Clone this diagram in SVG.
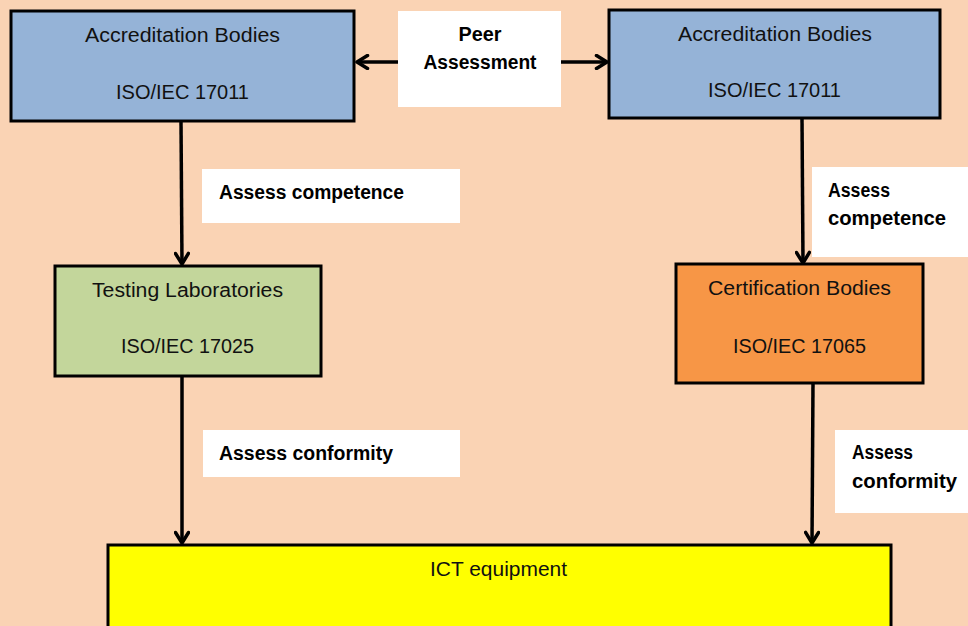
<svg xmlns="http://www.w3.org/2000/svg" width="968" height="626" viewBox="0 0 968 626">
<defs>
<style>
.box{stroke:#000;stroke-width:3}
.lbl{fill:#fff}
.t{font-family:"Liberation Sans",Arial,sans-serif;font-size:20px;fill:#111}
.b{font-family:"Liberation Sans",Arial,sans-serif;font-size:20px;font-weight:bold;fill:#000}
.c{stroke:#000;stroke-width:3.5;fill:none}
</style>
<marker id="ah" viewBox="0 0 16 16" refX="13.5" refY="8" markerWidth="16" markerHeight="16" markerUnits="userSpaceOnUse" orient="auto">
<path d="M3,1.5 L13.5,8 L3,14.5" fill="none" stroke="#000" stroke-width="3.5" stroke-linecap="round" stroke-linejoin="round"/>
</marker>
</defs>
<rect width="968" height="626" fill="#FAD3B4"/>

<g id="labels">
<g id="lbl-peer"><rect class="lbl" x="398" y="11" width="163" height="96"/>
<text class="b" x="480" y="41" text-anchor="middle" textLength="43" lengthAdjust="spacingAndGlyphs">Peer</text>
<text class="b" x="480" y="69" text-anchor="middle" textLength="113" lengthAdjust="spacingAndGlyphs">Assessment</text></g>
<g id="lbl-comp-left"><rect class="lbl" x="202" y="169" width="258" height="54"/>
<text class="b" x="219" y="199" textLength="185" lengthAdjust="spacingAndGlyphs">Assess competence</text></g>
<g id="lbl-comp-right"><rect class="lbl" x="812" y="167" width="156" height="90"/>
<text class="b" x="828" y="197" textLength="62" lengthAdjust="spacingAndGlyphs">Assess</text>
<text class="b" x="828" y="225" textLength="118" lengthAdjust="spacingAndGlyphs">competence</text></g>
<g id="lbl-conf-left"><rect class="lbl" x="203" y="430" width="257" height="47"/>
<text class="b" x="219" y="460" textLength="174" lengthAdjust="spacingAndGlyphs">Assess conformity</text></g>
<g id="lbl-conf-right"><rect class="lbl" x="835" y="430" width="133" height="83"/>
<text class="b" x="852" y="459" textLength="61" lengthAdjust="spacingAndGlyphs">Assess</text>
<text class="b" x="852" y="488" textLength="105" lengthAdjust="spacingAndGlyphs">conformity</text></g>
</g>

<g id="connectors">
<line class="c" x1="398" y1="62" x2="357" y2="62" marker-end="url(#ah)"/>
<line class="c" x1="561" y1="62" x2="607" y2="62" marker-end="url(#ah)"/>
<line class="c" x1="181" y1="121" x2="182" y2="264" marker-end="url(#ah)"/>
<line class="c" x1="802" y1="118" x2="803" y2="263" marker-end="url(#ah)"/>
<line class="c" x1="182" y1="376" x2="182" y2="543" marker-end="url(#ah)"/>
<line class="c" x1="813" y1="383" x2="812" y2="543" marker-end="url(#ah)"/>
</g>

<g id="ab-left">
<rect class="box" x="11" y="11" width="343" height="110" fill="#95B3D7"/>
<text class="t" x="182.5" y="42" text-anchor="middle" textLength="195" lengthAdjust="spacingAndGlyphs">Accreditation Bodies</text>
<text class="t" x="182.5" y="99" text-anchor="middle" textLength="133" lengthAdjust="spacingAndGlyphs">ISO/IEC 17011</text>
</g>
<g id="ab-right">
<rect class="box" x="609" y="10" width="331" height="108" fill="#95B3D7"/>
<text class="t" x="775" y="41" text-anchor="middle" textLength="194" lengthAdjust="spacingAndGlyphs">Accreditation Bodies</text>
<text class="t" x="774.5" y="97" text-anchor="middle" textLength="133" lengthAdjust="spacingAndGlyphs">ISO/IEC 17011</text>
</g>
<g id="testing-labs">
<rect class="box" x="55" y="266" width="266" height="110" fill="#C3D69B"/>
<text class="t" x="187.5" y="297" text-anchor="middle" textLength="191" lengthAdjust="spacingAndGlyphs">Testing Laboratories</text>
<text class="t" x="187.5" y="353" text-anchor="middle" textLength="133" lengthAdjust="spacingAndGlyphs">ISO/IEC 17025</text>
</g>
<g id="cert-bodies">
<rect class="box" x="676" y="264" width="247" height="119" fill="#F79646"/>
<text class="t" x="799.5" y="295" text-anchor="middle" textLength="183" lengthAdjust="spacingAndGlyphs">Certification Bodies</text>
<text class="t" x="799.5" y="353" text-anchor="middle" textLength="133" lengthAdjust="spacingAndGlyphs">ISO/IEC 17065</text>
</g>
<g id="ict">
<rect class="box" x="108" y="545" width="783" height="100" fill="#FFFF00"/>
<text class="t" x="498.5" y="576" text-anchor="middle" textLength="137" lengthAdjust="spacingAndGlyphs">ICT equipment</text>
</g>
</svg>
